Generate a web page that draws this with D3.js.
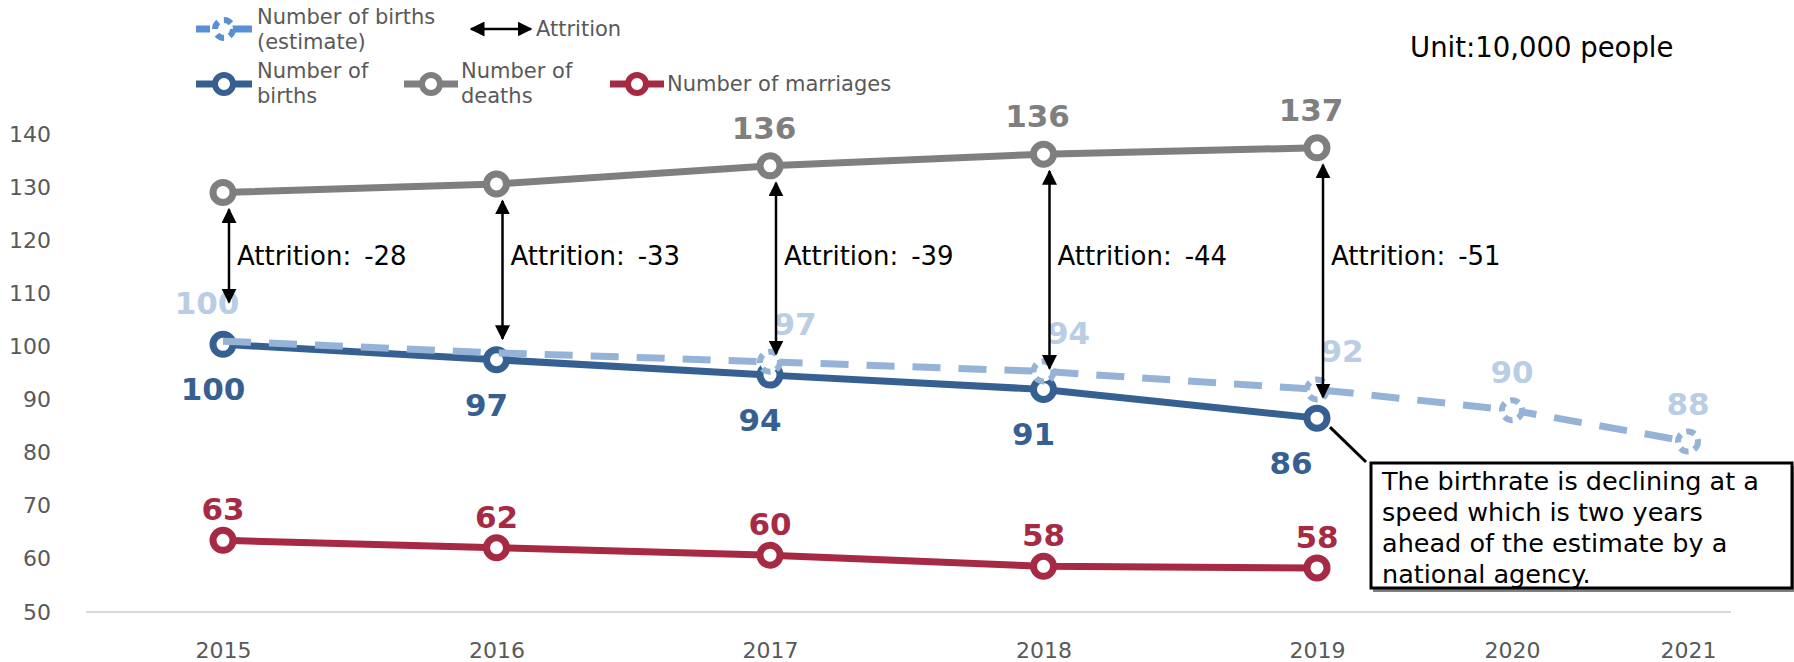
<!DOCTYPE html>
<html>
<head>
<meta charset="utf-8" />
<title>Births, deaths and marriages</title>
<script src="https://d3js.org/d3.v7.min.js"></script>
<style>
  body { margin: 0; background: #fff; }
  text { font-family: "DejaVu Sans", Verdana, sans-serif; }
</style>
</head>
<body>
<svg id="viz"></svg>
<script>
// values (unit: 10,000 people)
var years = [2015, 2016, 2017, 2018, 2019, 2020, 2021];
var actualYears = [2015, 2016, 2017, 2018, 2019];
var deaths = [129.0, 130.6, 134.0, 136.2, 137.4];
var births = [100.4, 97.5, 94.6, 91.9, 86.5];
var marriages = [63.5, 62.1, 60.7, 58.6, 58.3];
var birthsEstimate = [101.0, 98.8, 97.1, 95.3, 91.9, 88.0, 82.1];

var deathLabels = ["", "", "136", "136", "137"];
var birthLabels = ["100", "97", "94", "91", "86"];
var marriageLabels = ["63", "62", "60", "58", "58"];
var estimateLabels = ["100", "", "97", "94", "92", "90", "88"];
var attritionLabels = ["-28", "-33", "-39", "-44", "-51"];
var yTicks = [50, 60, 70, 80, 90, 100, 110, 120, 130, 140];

var W = 1794, H = 662;
var cDeaths = "#7f7f7f", cBirths = "#376092", cMarr = "#a62a44",
    cEst = "#95b3d7", cEstLabel = "#b9cde5", cText = "#595959";

var svg = d3.select("#viz").attr("width", W).attr("height", H);

var defs = svg.append("defs");
defs.append("marker")
  .attr("id", "arrow")
  .attr("viewBox", "0 0 10 10")
  .attr("refX", 9).attr("refY", 5)
  .attr("markerUnits", "userSpaceOnUse")
  .attr("markerWidth", 15).attr("markerHeight", 15)
  .attr("orient", "auto-start-reverse")
  .append("path").attr("d", "M0,0 L10,5 L0,10 z").attr("fill", "#000");

// the year axis is not evenly spaced in the source chart
var xScale = d3.scaleLinear()
  .domain([2015, 2019, 2020, 2021])
  .range([223, 1317, 1512, 1688]);

var yScale = d3.scaleLinear()
  .domain([50, 140])
  .range([612, 134]);

// y axis (labels only)
var yAxis = d3.axisLeft(yScale).tickValues(yTicks).tickSize(0).tickPadding(7);
var gy = svg.append("g").attr("transform", "translate(58,0)").call(yAxis);
gy.select(".domain").remove();
gy.selectAll("text").attr("font-size", 22).attr("fill", cText)
  .attr("font-family", "DejaVu Sans, sans-serif");

// x axis
var xAxis = d3.axisBottom(xScale).tickValues(years).tickFormat(d3.format("d"))
  .tickSize(0).tickPadding(30);
var gx = svg.append("g").attr("transform", "translate(0," + yScale(50) + ")").call(xAxis);
gx.select(".domain").remove();
gx.selectAll("text").attr("font-size", 22).attr("fill", cText)
  .attr("font-family", "DejaVu Sans, sans-serif");

svg.append("line")
  .attr("x1", 86).attr("x2", 1731)
  .attr("y1", yScale(50)).attr("y2", yScale(50))
  .attr("stroke", "#d9d9d9").attr("stroke-width", 2);

function drawSeries(xs, vals, color) {
  var line = d3.line().x(function(d, i) { return xScale(xs[i]); })
    .y(function(d) { return yScale(d); });
  svg.append("path").datum(vals)
    .attr("d", line).attr("fill", "none")
    .attr("stroke", color).attr("stroke-width", 7)
    .attr("stroke-linejoin", "round");
  svg.selectAll(null).data(vals).enter().append("circle")
    .attr("cx", function(d, i) { return xScale(xs[i]); })
    .attr("cy", function(d) { return yScale(d); })
    .attr("r", 10)
    .attr("fill", "#fff").attr("stroke", color).attr("stroke-width", 7);
}

drawSeries(actualYears, deaths, cDeaths);
drawSeries(actualYears, marriages, cMarr);
drawSeries(actualYears, births, cBirths);

// estimate: dashed line, dashed markers from 2017 on
var estLine = d3.line().x(function(d, i) { return xScale(years[i]); })
  .y(function(d) { return yScale(d); });
svg.append("path").datum(birthsEstimate)
  .attr("d", estLine).attr("fill", "none")
  .attr("stroke", cEst).attr("stroke-width", 7)
  .attr("stroke-dasharray", "28,18");
svg.selectAll(null).data(birthsEstimate).enter()
  .filter(function(d, i) { return i >= 2; })
  .append("circle")
  .attr("cx", function(d) { return xScale(years[birthsEstimate.indexOf(d)]); })
  .attr("cy", function(d) { return yScale(d); })
  .attr("r", 10).attr("fill", "#fff")
  .attr("stroke", cEst).attr("stroke-width", 6)
  .attr("stroke-dasharray", "9,6");

// data labels
function labels(xs, vals, texts, color, dx, dy) {
  svg.selectAll(null).data(vals).enter().append("text")
    .attr("x", function(d, i) { return xScale(xs[i]) + (typeof dx === "function" ? dx(i) : dx); })
    .attr("y", function(d) { return yScale(d) + dy; })
    .attr("text-anchor", "middle")
    .attr("dominant-baseline", "central")
    .attr("font-size", 31).attr("font-weight", "bold")
    .attr("fill", color)
    .text(function(d, i) { return texts[i]; });
}
labels(actualYears, deaths, deathLabels, cDeaths, -6, -38);
labels(actualYears, births, birthLabels, cBirths, function(i) { return i === 4 ? -26 : -10; }, 45);
labels(actualYears, marriages, marriageLabels, cMarr, 0, -31);
labels(years, birthsEstimate, estimateLabels, cEstLabel, function(i) {
  if (i === 0) return -16;
  if (i >= 2 && i <= 4) return 25;
  return 0;
}, -38);

// attrition arrows
actualYears.forEach(function(yr, i) {
  var x = xScale(yr) + 6;
  svg.append("line")
    .attr("x1", x).attr("x2", x)
    .attr("y1", yScale(deaths[i]) + 17)
    .attr("y2", yScale(births[i]) - (i === 0 ? 42 : 21))
    .attr("stroke", "#000").attr("stroke-width", 2.5)
    .attr("marker-start", "url(#arrow)")
    .attr("marker-end", "url(#arrow)");
  svg.append("text")
    .attr("x", x + 8).attr("y", yScale(117))
    .attr("dominant-baseline", "central")
    .attr("font-size", 26).attr("fill", "#000")
    .text("Attrition:\u2002" + attritionLabels[i]);
});

// callout
var bx = xScale(2019), by = yScale(births[4]);
svg.append("line")
  .attr("x1", bx + 13).attr("y1", by + 9)
  .attr("x2", 1366).attr("y2", 462)
  .attr("stroke", "#000").attr("stroke-width", 3);
svg.append("rect").attr("x", 1373).attr("y", 466).attr("width", 421).attr("height", 126)
  .attr("fill", "#808080");
svg.append("rect").attr("x", 1371).attr("y", 463).attr("width", 421).attr("height", 125)
  .attr("fill", "#fff").attr("stroke", "#000").attr("stroke-width", 3);
var note = ["The birthrate is declining at a", "speed which is two years",
            "ahead of the estimate by a", "national agency."];
svg.append("text").attr("x", 1382).attr("y", 480)
  .attr("font-size", 25.5).attr("fill", "#000")
  .selectAll("tspan").data(note).enter().append("tspan")
  .attr("x", 1382)
  .attr("y", function(d, i) { return 481 + i * 31; })
  .attr("dominant-baseline", "central")
  .text(function(d) { return d; });

svg.append("text").attr("x", 1410).attr("y", 47)
  .attr("dominant-baseline", "central")
  .attr("font-size", 27.5).attr("fill", "#000")
  .text("Unit:10,000 people");

// legend
var leg = svg.append("g");
function legendLine(x1, x2, y, color, dashed) {
  leg.append("line").attr("x1", x1).attr("x2", x2).attr("y1", y).attr("y2", y)
    .attr("stroke", color).attr("stroke-width", 7)
    .attr("stroke-dasharray", dashed ? "14,12,0,0,100" : null);
  leg.append("circle").attr("cx", (x1 + x2) / 2).attr("cy", y).attr("r", 9)
    .attr("fill", "#fff").attr("stroke", color).attr("stroke-width", 6)
    .attr("stroke-dasharray", dashed ? "8,6" : null);
}
function legendText(x, y, lines) {
  leg.append("text").attr("font-size", 21).attr("fill", cText)
    .selectAll("tspan").data(lines).enter().append("tspan")
    .attr("x", x)
    .attr("y", function(d, i) { return y + i * 25; })
    .attr("dominant-baseline", "central")
    .text(function(d) { return d; });
}
legendLine(196, 252, 29, "#5b8fd4", true);
legendText(257, 17, ["Number of births", "(estimate)"]);
leg.append("line").attr("x1", 471).attr("x2", 531).attr("y1", 29).attr("y2", 29)
  .attr("stroke", "#000").attr("stroke-width", 2.5)
  .attr("marker-start", "url(#arrow)").attr("marker-end", "url(#arrow)");
legendText(536, 29, ["Attrition"]);

legendLine(196, 252, 84, cBirths, false);
legendText(257, 71, ["Number of", "births"]);
legendLine(404, 458, 84, cDeaths, false);
legendText(461, 71, ["Number of", "deaths"]);
legendLine(610, 664, 84, cMarr, false);
legendText(667, 84, ["Number of marriages"]);
</script>
</body>
</html>
